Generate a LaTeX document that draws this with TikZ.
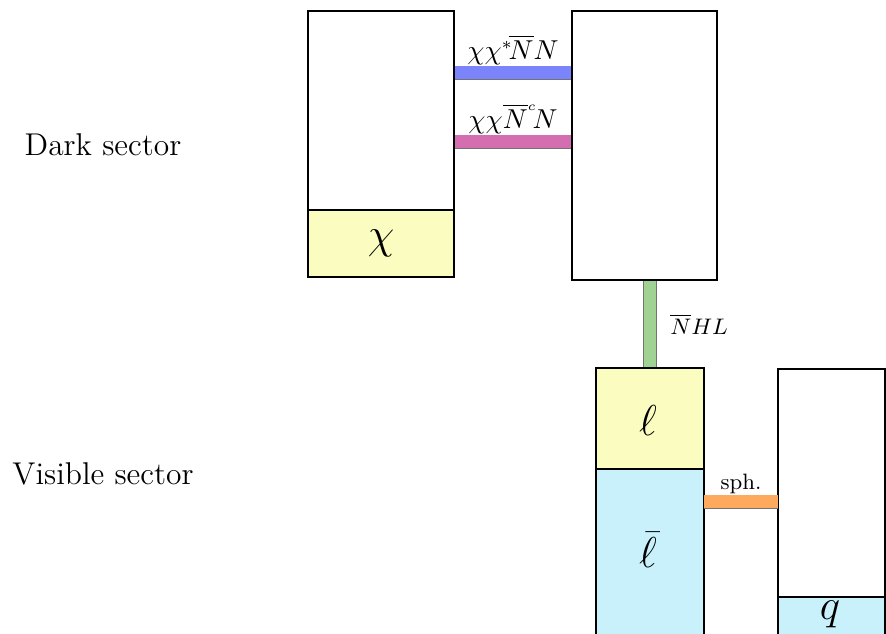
\documentclass[tikz,border=0pt]{standalone}
\usepackage{amsmath}
\definecolor{cyel}{HTML}{FAFCC0}
\definecolor{ccyan}{HTML}{C8F1FB}
\definecolor{cblue}{HTML}{7B84FB}
\definecolor{cpink}{HTML}{D46EB0}
\definecolor{cgreen}{HTML}{A0D293}
\definecolor{corange}{HTML}{FDAA5E}
\tikzset{
  box/.style={draw=black, line width=1.15pt, inner sep=0pt, outer sep=0pt, anchor=north west, fill=white},
  bar/.style={draw=black!55, line width=0.3pt, double distance=5pt},
  lab/.style={inner sep=1pt, font=\fontsize{10.6}{12}\selectfont},
  big/.style={font=\fontsize{16}{18}\selectfont},
  sector/.style={font=\fontsize{12.6}{14}\selectfont}
}
\begin{document}
\begin{tikzpicture}[x=0.4pt,y=-0.4pt]
\useasboundingbox (0,0) rectangle (886,633);
\clip (0,0) rectangle (886,633);
% sector labels
\node[sector] (dark) at (103,145) {Dark sector};
\node[sector] (vis) at (103,474) {Visible sector};
% box A
\node[box, minimum width=146*0.4pt, minimum height=199*0.4pt] (A) at (308,11) {};
\node[box, fill=cyel, minimum width=146*0.4pt, minimum height=67*0.4pt] (Achi) at (308,210) {};
\node[big] (chi) at (Achi.center) {$\chi$};
% box B
\node[box, minimum width=145*0.4pt, minimum height=269*0.4pt] (B) at (572,11) {};
% box C
\node[box, fill=cyel, minimum width=108*0.4pt, minimum height=101*0.4pt] (C) at (596,368) {};
\node[box, fill=ccyan, minimum width=108*0.4pt, minimum height=180*0.4pt] (Cbar) at (596,469) {};
\node[big] (ell) at (648,420) {$\ell$};
\node[big] (ellbar) at (648,550) {$\bar{\ell}$};
% box D
\node[box, minimum width=107*0.4pt, minimum height=228*0.4pt] (D) at (778,369) {};
\node[box, fill=ccyan, minimum width=107*0.4pt, minimum height=60*0.4pt] (Dq) at (778,597) {};
\node[big] (q) at (830,614) {$q$};
% bars
\coordinate (b1) at (454,72.5);
\coordinate (p1) at (454,141.5);
\coordinate (o1) at (704,501.5);
\draw[bar, double=cblue] (A.east |- b1) -- (B.west |- b1)
  node[midway, above=2pt, lab] (lb1) {$\chi\chi^{*}\!\overline{N}N$};
\draw[bar, double=cpink] (A.east |- p1) -- (B.west |- p1)
  node[midway, above=2pt, lab] (lb2) {$\chi\chi\overline{N}^{\scriptscriptstyle c}\!N$};
\coordinate (g1) at (650,368);
\draw[bar, double=cgreen] (g1) -- (g1 |- B.south)
  node[midway, right=7pt, lab, font=\fontsize{9.3}{11}\selectfont] (lg) {$\overline{N}HL$};
\draw[bar, double=corange] (Cbar.east |- o1) -- (D.west |- o1)
  node[midway, above=2pt, lab, font=\fontsize{8.9}{10}\selectfont] (lo) {sph.};
% redraw box outlines over bar ends
\draw[line width=1.15pt] (A.north west) rectangle (Achi.south east);
\draw[line width=1.15pt] (Achi.north west) -- (Achi.north east);
\draw[line width=1.15pt] (B.north west) rectangle (B.south east);
\draw[line width=1.15pt] (C.south west) |- (C.north east) |- (C.south west);
\end{tikzpicture}
\end{document}
